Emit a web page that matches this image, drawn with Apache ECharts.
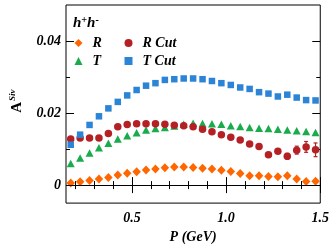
<!DOCTYPE html>
<html>
<head>
<meta charset="utf-8">
<script src="https://cdn.jsdelivr.net/npm/echarts@6/dist/echarts.min.js"></script>
<style>html,body{margin:0;padding:0;background:#fff}#c{width:332px;height:249px}</style>
</head>
<body>
<div id="c"></div>
<script>
var pValues = [0.175,0.225,0.275,0.325,0.375,0.425,0.475,0.525,0.575,0.625,0.675,0.725,0.775,0.825,0.875,0.925,0.975,1.025,1.075,1.125,1.175,1.225,1.275,1.325,1.375,1.425,1.475];
var rValues = [0.0006,0.0009,0.0013,0.0017,0.0021,0.0028,0.0033,0.0037,0.0042,0.0045,0.0048,0.0050,0.0050,0.0049,0.0047,0.0045,0.0041,0.0038,0.0032,0.0026,0.0026,0.0024,0.0023,0.0026,0.0017,0.0010,0.0011];
var tValues = [0.0060,0.0075,0.0089,0.0104,0.0116,0.0128,0.0137,0.0145,0.0153,0.0157,0.0160,0.0164,0.0169,0.0172,0.0171,0.0170,0.0169,0.0165,0.0163,0.0160,0.0158,0.0157,0.0155,0.0153,0.0151,0.0149,0.0146];
var rCutValues = [0.0128,0.0131,0.0131,0.0131,0.0143,0.0162,0.0168,0.0170,0.0170,0.0170,0.0169,0.0166,0.0165,0.0162,0.0155,0.0148,0.0140,0.0133,0.0125,0.0114,0.0107,0.0084,0.0094,0.0080,0.0097,0.0106,0.0098];
var rCutErrors = [0.0003,0.0003,0.0003,0.0003,0.0003,0.0003,0.0003,0.0003,0.0003,0.0003,0.0003,0.0003,0.0003,0.0003,0.0003,0.0003,0.0003,0.0003,0.0004,0.0004,0.0004,0.0005,0.0005,0.0008,0.0011,0.0015,0.0019];
var tCutValues = [0.0112,0.0140,0.0167,0.0191,0.0213,0.0231,0.0249,0.0264,0.0276,0.0283,0.0292,0.0294,0.0296,0.0296,0.0294,0.0289,0.0283,0.0278,0.0271,0.0267,0.0258,0.0254,0.0246,0.0251,0.0243,0.0236,0.0235];
var xMajorTicks = [0.5,1.0,1.5];
var xMinorTicks = [0.2,0.3,0.4,0.6,0.7,0.8,0.9,1.1,1.2,1.3,1.4];
var yMajorTicks = [0,0.02,0.04];
var yMinorTicks = [0.01,0.03];
var yLabels = [0,0.02,0.04];

var FONT = 'Liberation Serif';
var C_R = '#ff6600', C_T = '#1aab4d', C_RC = '#b52025', C_TC = '#2b84d6';

function pairs(ys){ return pValues.map(function(x,i){ return [x, ys[i]]; }); }

function xAx(pos, ticks, len, labels){
  return {
    type:'value', min:0.15, max:1.5, position:pos,
    axisLine:{show:false}, splitLine:{show:false},
    axisTick:{show:true, inside:true, length:len, customValues:ticks, lineStyle:{color:'#000', width:1}},
    axisLabel:labels ? {show:true, customValues:labels, margin:8,
      formatter:function(v){return v.toFixed(1);},
      fontFamily:FONT, fontStyle:'italic', fontWeight:'bold', fontSize:14, color:'#000'} : {show:false}
  };
}
function yAx(pos, ticks, len, labels){
  return {
    type:'value', min:-0.005, max:0.05, position:pos,
    axisLine:{show:false}, splitLine:{show:false},
    axisTick:{show:true, inside:true, length:len, customValues:ticks, lineStyle:{color:'#000', width:1}},
    axisLabel:labels ? {show:true, customValues:labels, margin:5,
      formatter:function(v){return v===0?'0':v.toFixed(2);},
      fontFamily:FONT, fontStyle:'italic', fontWeight:'bold', fontSize:14, color:'#000'} : {show:false}
  };
}

var xAxes = [xAx('bottom', xMajorTicks, 8, xMajorTicks), xAx('bottom', xMinorTicks, 4, null), xAx('top', xMajorTicks, 8, null), xAx('top', xMinorTicks, 4, null)];
xAxes[0].name = 'P (GeV)';
xAxes[0].nameLocation = 'middle';
xAxes[0].nameGap = 26;
xAxes[0].nameTextStyle = {fontFamily:FONT, fontStyle:'italic', fontWeight:'bold', fontSize:14, color:'#000'};
var yAxes = [yAx('left', yMajorTicks, 8, yLabels), yAx('left', yMinorTicks, 4, null), yAx('right', yMajorTicks, 8, null), yAx('right', yMinorTicks, 4, null)];
yAxes[0].name = '{a|A}{s|Siv}';
yAxes[0].nameLocation = 'middle';
yAxes[0].nameRotate = 90;
yAxes[0].nameGap = 40;
yAxes[0].nameTextStyle = {fontFamily:FONT, fontWeight:'bold', fontSize:15, color:'#000',
  rich:{a:{fontFamily:FONT, fontWeight:'bold', fontSize:15, color:'#000', padding:[0,0,0,6]},
        s:{fontFamily:FONT, fontWeight:'bold', fontStyle:'italic', fontSize:9, color:'#000', verticalAlign:'top', padding:[0,0,9,1]}}};

var chart = echarts.init(document.getElementById('c'), null, {renderer:'canvas'});
var legendText = {fontFamily:FONT, fontStyle:'italic', fontWeight:'bold', fontSize:14, color:'#000', lineHeight:18, padding:[0,0,0,5]};
chart.setOption({
  animation:false,
  grid:{left:55, top:5, right:3, bottom:45, show:true, borderColor:'#000', borderWidth:1, backgroundColor:'transparent'},
  title:{text:'{b|h}{s|+}{b|h}{s|-}', left:73, top:15, padding:0,
    textStyle:{fontFamily:FONT, fontStyle:'italic', fontWeight:'bold', fontSize:15, color:'#000',
      rich:{b:{fontFamily:FONT, fontStyle:'italic', fontWeight:'bold', fontSize:15, color:'#000'},
            s:{fontFamily:FONT, fontWeight:'bold', fontSize:10, color:'#000', verticalAlign:'top', padding:[0,0,7,0]}}}},
  legend:[
    {data:['R','T'], orient:'vertical', left:74.5, top:34, padding:0, itemWidth:8, itemHeight:8, itemGap:0, textStyle:legendText},
    {data:['R Cut','T Cut'], orient:'vertical', left:124.5, top:34, padding:0, itemWidth:8, itemHeight:8, itemGap:0, textStyle:legendText}
  ],
  xAxis:xAxes,
  yAxis:yAxes,
  series:[
    {name:'T', type:'scatter', symbol:'triangle', symbolSize:[8,7.5], itemStyle:{color:C_T, opacity:1}, data:pairs(tValues),
     markLine:{silent:true, symbol:'none', label:{show:false}, lineStyle:{color:'#000', width:1, type:'solid'}, data:[{yAxis:0}]}},
    {name:'R', type:'scatter', symbol:'diamond', symbolSize:[8.5,9], itemStyle:{color:C_R, opacity:1}, data:pairs(rValues)},
    {name:'R Cut err', type:'custom', silent:true,
     data:pValues.map(function(x,i){return [x, rCutValues[i]-rCutErrors[i], rCutValues[i]+rCutErrors[i]];}),
     renderItem:function(params, api){
       var lo = api.coord([api.value(0), api.value(1)]);
       var hi = api.coord([api.value(0), api.value(2)]);
       var st = {stroke:C_RC, lineWidth:1.2};
       return {type:'group', children:[
         {type:'line', shape:{x1:lo[0], y1:lo[1], x2:hi[0], y2:hi[1]}, style:st},
         {type:'line', shape:{x1:lo[0]-2, y1:lo[1], x2:lo[0]+2, y2:lo[1]}, style:st},
         {type:'line', shape:{x1:hi[0]-2, y1:hi[1], x2:hi[0]+2, y2:hi[1]}, style:st}
       ]};
     }},
    {name:'R Cut', type:'scatter', symbol:'circle', symbolSize:7.5, itemStyle:{color:C_RC, opacity:1}, data:pairs(rCutValues)},
    {name:'T Cut', type:'scatter', symbol:'rect', symbolSize:6.5, itemStyle:{color:C_TC, opacity:1}, data:pairs(tCutValues)}
  ]
});
</script>
</body>
</html>
